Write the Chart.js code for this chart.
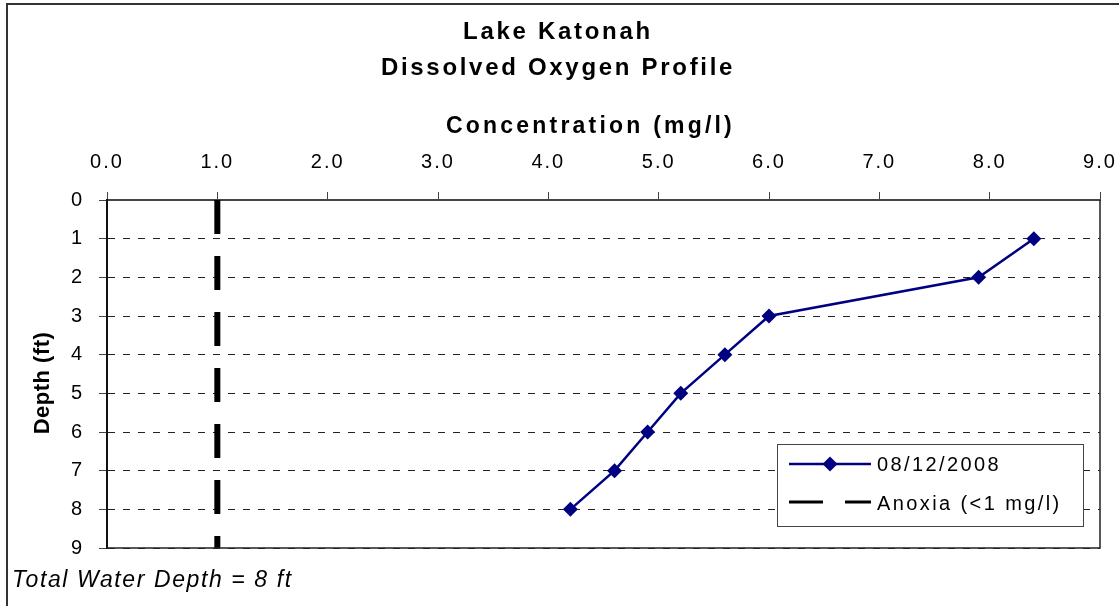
<!DOCTYPE html>
<html><head><meta charset="utf-8">
<script src="https://cdn.jsdelivr.net/npm/chart.js@4"></script>
<style>html,body{margin:0;padding:0;background:#fff;} canvas{display:block;}</style>
</head><body>
<canvas id="c" width="1119" height="606"></canvas>
<script>
const depths = [1, 2, 3, 4, 5, 6, 7, 8];
const doValues = [8.4, 7.9, 6.0, 5.6, 5.2, 4.9, 4.6, 4.2];
const anoxiaX = [1, 1];
const anoxiaDepth = [0, 9];
const seriesLabels = ['08/12/2008', 'Anoxia (<1 mg/l)'];
const titleLines = ['Lake Katonah', 'Dissolved Oxygen Profile'];
const xTitle = 'Concentration (mg/l)';
const yTitle = 'Depth (ft)';
const footnote = 'Total Water Depth = 8 ft';

const FONT = "'Liberation Sans', Arial, sans-serif";
Chart.defaults.font.family = FONT;
Chart.defaults.color = '#000';

function wrapSpacing(obj, name, sp, dx = 0, dy = 0) {
  const orig = obj[name];
  obj[name] = function (...a) {
    const c = this.ctx;
    c.save();
    c.letterSpacing = sp + 'px';
    c.translate(dx, dy);
    try { return orig.apply(this, a); } finally { c.restore(); }
  };
}

const spacingPlugin = {
  id: 'spacing',
  beforeDraw(chart) {
    if (chart._spWrapped) return;
    chart._spWrapped = true;
    chart.boxes.forEach(b => {
      if (b === chart.scales.x) {
        wrapSpacing(b, 'drawLabels', 2);
        wrapSpacing(b, 'drawTitle', 3.2, -13, 0);
      } else if (b === chart.scales.y) {
        wrapSpacing(b, 'drawLabels', 2);
        wrapSpacing(b, 'drawTitle', 0.5, 1, 9);
      } else if (b.options && b.options.text === footnote) {
        wrapSpacing(b, 'draw', 1.6);
      } else if (b.options && Array.isArray(b.options.text)) {
        wrapSpacing(b, 'draw', 2.7, 2, 0);
      }
    });
  }
};

const decorPlugin = {
  id: 'decor',
  afterDraw(chart) {
    const c = chart.ctx;
    const a = chart.chartArea;
    c.save();
    // outer frame
    c.strokeStyle = '#333';
    c.lineWidth = 2;
    c.strokeRect(7, 4, 1300, 800);
    // plot right & bottom border
    c.strokeStyle = '#222';
    c.lineWidth = 1.5;
    c.beginPath();
    c.moveTo(a.right, a.top);
    c.lineTo(a.right, a.bottom);
    c.lineTo(a.left, a.bottom);
    c.stroke();
    // legend
    const lx = 777, ly = 444, lw = 306, lh = 82;
    c.fillStyle = '#fff';
    c.fillRect(lx, ly, lw, lh);
    c.strokeStyle = '#444';
    c.lineWidth = 1;
    c.strokeRect(lx + 0.5, ly + 0.5, lw, lh);
    const ds = chart.data.datasets;
    const r1 = 464, r2 = 502;
    c.strokeStyle = ds[0].borderColor;
    c.lineWidth = 2.5;
    c.beginPath(); c.moveTo(789, r1); c.lineTo(871, r1); c.stroke();
    c.fillStyle = ds[0].borderColor;
    c.beginPath();
    c.moveTo(830, r1 - 7.5); c.lineTo(837.5, r1); c.lineTo(830, r1 + 7.5); c.lineTo(822.5, r1);
    c.closePath(); c.fill();
    c.strokeStyle = ds[1].borderColor;
    c.lineWidth = 3;
    c.setLineDash([34, 22]);
    c.beginPath(); c.moveTo(789, r2); c.lineTo(871, r2); c.stroke();
    c.setLineDash([]);
    c.fillStyle = '#000';
    c.font = '20px ' + FONT;
    c.textBaseline = 'middle';
    c.textAlign = 'left';
    c.letterSpacing = '2.4px';
    c.fillText(ds[0].label, 877, r1 + 1);
    c.fillText(ds[1].label, 877, r2 + 2);
    c.restore();
  }
};

new Chart(document.getElementById('c'), {
  type: 'line',
  data: {
    datasets: [
      {
        label: seriesLabels[0],
        data: depths.map((d, i) => ({ x: doValues[i], y: d })),
        borderColor: '#000080',
        backgroundColor: '#000080',
        borderWidth: 2.5,
        pointStyle: 'rectRot',
        pointRadius: 7.5,
        pointBorderWidth: 0,
        tension: 0
      },
      {
        label: seriesLabels[1],
        data: anoxiaDepth.map((d, i) => ({ x: anoxiaX[i], y: d })),
        borderColor: '#000',
        borderWidth: 6,
        borderDash: [34, 22],
        borderCapStyle: 'butt',
        pointRadius: 0
      }
    ]
  },
  options: {
    responsive: false,
    animation: false,
    layout: { padding: { left: 12, right: 19, top: 0, bottom: 0 } },
    plugins: {
      legend: { display: false },
      tooltip: { enabled: false },
      title: {
        display: true, text: titleLines, color: '#000',
        font: { size: 24, weight: 'bold', lineHeight: 1.5 },
        padding: { top: 14, bottom: 0 }
      },
      subtitle: {
        display: true, position: 'bottom', align: 'start', text: footnote, color: '#000',
        font: { size: 23, style: 'italic', weight: 'normal', lineHeight: 1.2 },
        padding: { top: 19, bottom: 11.4 }
      }
    },
    scales: {
      x: {
        type: 'linear', position: 'top', min: 0, max: 9,
        ticks: { stepSize: 1, callback: v => Number(v).toFixed(1), font: { size: 20 }, padding: 18, color: '#000' },
        grid: { drawOnChartArea: false, drawTicks: true, tickLength: 8, tickColor: '#444', tickWidth: 1 },
        border: { display: true, color: '#444', width: 2 },
        title: { display: true, text: xTitle, color: '#000', font: { size: 23, weight: 'bold' }, padding: { top: 27, bottom: 0 } },
        afterFit: s => { s.height = 114; s.paddingLeft = 0; s.paddingRight = 0; }
      },
      y: {
        type: 'linear', reverse: true, min: 0, max: 9,
        ticks: { stepSize: 1, font: { size: 20 }, padding: 15, color: '#000' },
        grid: { color: '#222', lineWidth: 1, drawTicks: true, tickLength: 8, tickColor: '#444', tickWidth: 1, tickBorderDash: [] },
        border: { display: true, color: '#111', width: 2, dash: [7, 8] },
        title: { display: true, text: yTitle, color: '#000', font: { size: 22, weight: 'bold' }, padding: { top: 17, bottom: 0 } },
        afterFit: s => { s.width = 95; s.paddingTop = 0; s.paddingBottom = 0; }
      }
    }
  },
  plugins: [spacingPlugin, decorPlugin]
});
</script>
</body></html>
